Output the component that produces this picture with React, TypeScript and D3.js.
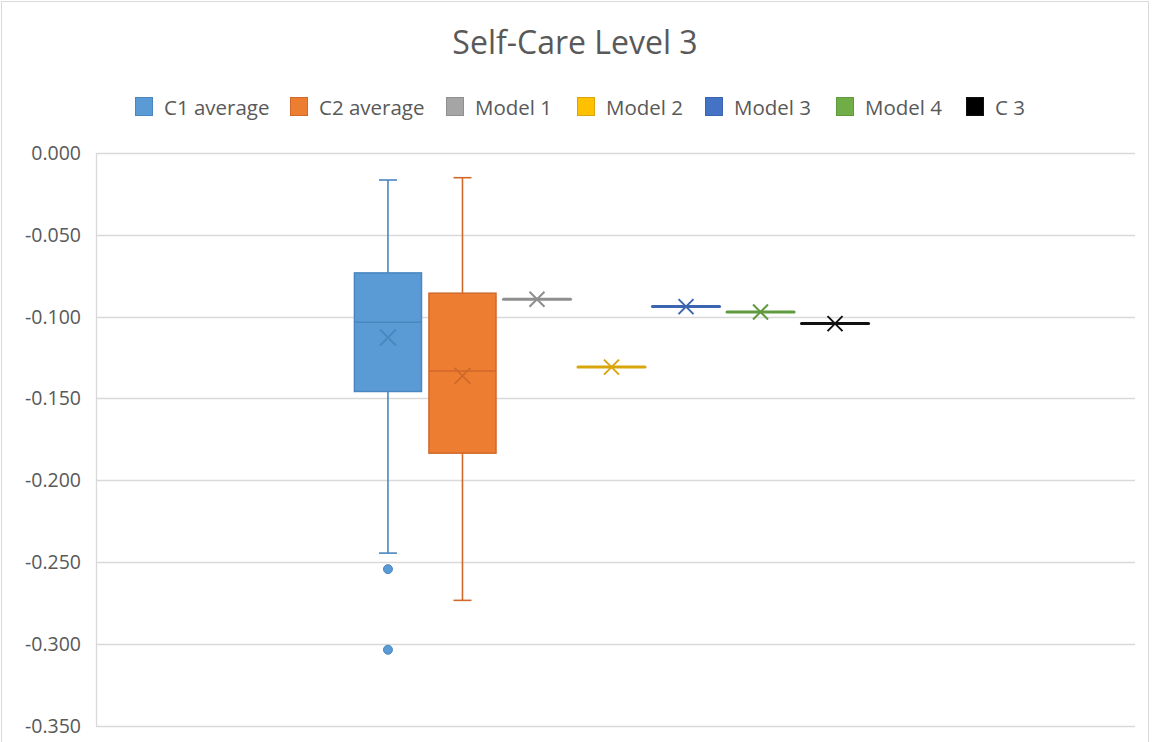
import { useEffect } from "react";
import * as d3 from "d3";

// series in legend order
const seriesNames = ["C1 average", "C2 average", "Model 1", "Model 2", "Model 3", "Model 4", "C 3"];

// box statistics for the two distribution series
const boxNames = ["C1 average", "C2 average"];
const boxMin = [-0.2446, -0.2735];
const boxQ1 = [-0.1458, -0.1835];
const boxMedian = [-0.1034, -0.1332];
const boxQ3 = [-0.0733, -0.0857];
const boxMax = [-0.0165, -0.0151];
const boxMean = [-0.1128, -0.1362];
const c1Outliers = [-0.2544, -0.3037];
const c2Outliers: number[] = [];

// single-value series (drawn as flat boxes with mean marker)
const pointNames = ["Model 1", "Model 2", "Model 3", "Model 4", "C 3"];
const pointValues = [-0.0894, -0.1309, -0.0939, -0.0972, -0.1043];

const yTicks = [0, -0.05, -0.1, -0.15, -0.2, -0.25, -0.3, -0.35];

const fills: Record<string, string> = {
  "C1 average": "#5B9BD5",
  "C2 average": "#ED7D31",
  "Model 1": "#A5A5A5",
  "Model 2": "#FFC000",
  "Model 3": "#4472C4",
  "Model 4": "#70AD47",
  "C 3": "#000000",
};
const lines: Record<string, string> = {
  "C1 average": "#4a86c0",
  "C2 average": "#d0692a",
  "Model 1": "#8f8f8f",
  "Model 2": "#d8a50c",
  "Model 3": "#3c65b0",
  "Model 4": "#5f9a3f",
  "C 3": "#111111",
};

const W = 1152;
const H = 742;
const FONT = "'Open Sans', 'Noto Sans', sans-serif";
const TXT = "#595959";

export default function App() {
  useEffect(() => {
    document.body.style.margin = "0";
  }, []);

  const left = 96;
  const right = 1135;
  const top = 153;
  const bottom = 725.5;

  const y = d3.scaleLinear().domain([-0.35, 0]).range([bottom, top]);
  // one category; the seven series sit side by side in the middle of it
  const outer = d3.scaleBand<string>().domain(["cat"]).range([left - 4, right - 4]).paddingOuter(0.496).paddingInner(0);
  const x = d3
    .scaleBand<string>()
    .domain(seriesNames)
    .range([outer("cat")!, outer("cat")! + outer.bandwidth()])
    .paddingInner(0.1)
    .paddingOuter(0.05);
  const bw = x.bandwidth();
  const fmt = (v: number) => d3.format(".3f")(v).replace("\u2212", "-");

  const xMark = (cx: number, cy: number, s: number, color: string, w: number) => (
    <path
      d={`M${cx - s},${cy - s}L${cx + s},${cy + s}M${cx - s},${cy + s}L${cx + s},${cy - s}`}
      stroke={color}
      strokeWidth={w}
      fill="none"
    />
  );

  // legend layout
  const legendX = [135, 290, 446, 577, 705, 836, 966];

  return (
    <svg width={W} height={H} style={{ display: "block", background: "#fff" }} fontFamily={FONT}>
      <rect x={1.5} y={1.5} width={W - 5} height={H + 10} fill="#fff" stroke="#d9d9d9" />
      <text x={575} y={54} textAnchor="middle" fontSize={32} fill={TXT}>
        Self-Care Level 3
      </text>

      {seriesNames.map((s, i) => (
        <g key={s} transform={`translate(${legendX[i]},0)`}>
          <rect x={0.5} y={97.5} width={17} height={18} fill={fills[s]} stroke={lines[s]} strokeWidth={1} />
          <text x={29} y={115} fontSize={20.5} fill={TXT}>
            {s}
          </text>
        </g>
      ))}

      {/* gridlines and axis */}
      {yTicks.map((t) => (
        <g key={t}>
          <line x1={left} x2={right} y1={Math.round(y(t)) + 0.5} y2={Math.round(y(t)) + 0.5} stroke="#d9d9d9" strokeWidth={1.3} />
          <text x={81} y={y(t) + 7} textAnchor="end" fontSize={19.5} fill={TXT}>
            {fmt(t)}
          </text>
        </g>
      ))}
      <line x1={left + 0.5} x2={left + 0.5} y1={top} y2={bottom + 0.5} stroke="#d9d9d9" strokeWidth={1.3} />

      {/* box series */}
      {boxNames.map((s, i) => {
        const x0 = x(s)!;
        const cx = x0 + bw / 2;
        const outs = i === 0 ? c1Outliers : c2Outliers;
        const capW = 18;
        return (
          <g key={s}>
            <line x1={cx} x2={cx} y1={y(boxMax[i])} y2={y(boxQ3[i])} stroke={lines[s]} strokeWidth={1.6} />
            <line x1={cx} x2={cx} y1={y(boxQ1[i])} y2={y(boxMin[i])} stroke={lines[s]} strokeWidth={1.6} />
            <line x1={cx - capW / 2} x2={cx + capW / 2} y1={y(boxMax[i])} y2={y(boxMax[i])} stroke={lines[s]} strokeWidth={1.6} />
            <line x1={cx - capW / 2} x2={cx + capW / 2} y1={y(boxMin[i])} y2={y(boxMin[i])} stroke={lines[s]} strokeWidth={1.6} />
            <rect
              x={x0}
              y={y(boxQ3[i])}
              width={bw}
              height={y(boxQ1[i]) - y(boxQ3[i])}
              fill={fills[s]}
              stroke={lines[s]}
              strokeWidth={1.5}
            />
            <line x1={x0} x2={x0 + bw} y1={y(boxMedian[i])} y2={y(boxMedian[i])} stroke={lines[s]} strokeWidth={1.5} />
            {xMark(cx, y(boxMean[i]), 8, lines[s], 1.8)}
            {outs.map((o, j) => (
              <circle key={j} cx={cx} cy={y(o)} r={4.5} fill={fills[s]} stroke={lines[s]} strokeWidth={1} />
            ))}
          </g>
        );
      })}

      {/* single-value series */}
      {pointNames.map((s, i) => {
        const x0 = x(s)!;
        const cx = x0 + bw / 2;
        const cy = y(pointValues[i]);
        return (
          <g key={s}>
            <line x1={x0} x2={x0 + bw} y1={cy} y2={cy} stroke={lines[s]} strokeWidth={3} strokeLinecap="round" />
            {xMark(cx, cy, 7.5, lines[s], 2)}
          </g>
        );
      })}
    </svg>
  );
}
